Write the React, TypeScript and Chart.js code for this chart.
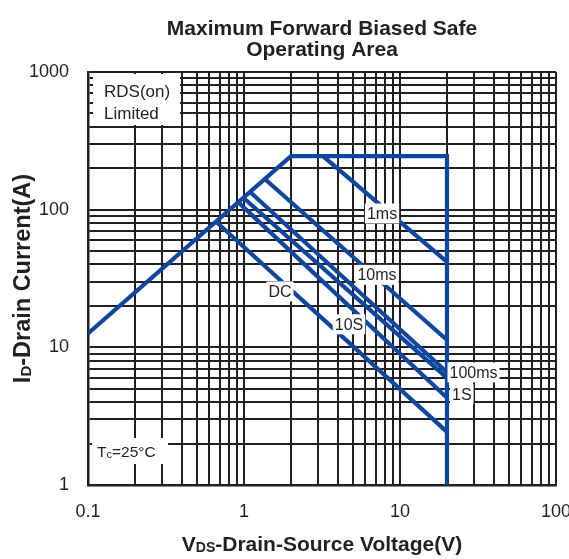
import React, { useEffect, useRef } from 'react';
import { Chart, registerables } from 'chart.js';
Chart.register(...registerables);

// ---------- data ----------
const TITLE_LINES = ['Maximum Forward Biased Safe', 'Operating Area'];
const X_DECADES = [0.1, 1, 10];
const X_MAX = 100;
const Y_DECADES = [1, 10, 100];
const Y_MAX = 1000;
const MINOR_MULTIPLIERS = [1, 2, 3, 4, 5, 6, 7, 8, 9];
const X_TICK_LABELS = ['0.1', '1', '10', '100'];
const Y_TICK_LABELS = ['1', '10', '100', '1000'];

// SOA boundary (RDS(on) limit, current limit, voltage limit)
const LIMIT_V = [0.1, 2.0, 20, 20];
const LIMIT_I = [12.6, 245, 245, 1];

// pulse lines
const PULSE_NAMES = ['1ms', '10ms', '100ms', '1S', '10S', 'DC'];
const PULSE_V_START = [3.21, 1.36, 1.09, 0.99, 0.92, 0.66];
const PULSE_I_START = [245, 167, 135, 122, 113, 82];
const PULSE_V_END = [20, 20, 20, 20, 20, 20];
const PULSE_I_END = [41.7, 11.3, 6.6, 6.0, 4.3, 2.43];
// label anchors (data coordinates)
const LABEL_V = [7.67, 7.12, 29.6, 24.9, 4.71, 1.7];
const LABEL_I = [93.8, 33.6, 6.57, 4.55, 14.7, 25.5];

const NOTE_TOP = ['RDS(on)', 'Limited'];
const NOTE_BOTTOM = { main: 'T', sub: 'c', rest: '=25°C' };
const X_TITLE = { main: 'V', sub: 'DS', rest: '-Drain-Source Voltage(V)' };
const Y_TITLE = { main: 'I', sub: 'D', rest: '-Drain Current(A)' };

// ---------- styles ----------
const BLUE = '#0b47a1';
const INK = '#231f20';
const FONT = '"Liberation Sans", Arial, Helvetica, sans-serif';

const xTicks = X_DECADES.flatMap((d) => MINOR_MULTIPLIERS.map((m) => +(d * m).toPrecision(4))).concat([X_MAX]);
const yTicks = Y_DECADES.flatMap((d) => MINOR_MULTIPLIERS.map((m) => +(d * m).toPrecision(4))).concat([Y_MAX]);

const sameVal = (a: number, b: number) => Math.abs(Math.log10(a) - Math.log10(b)) < 1e-6;
const labelFor = (labels: string[]) => (v: number) => {
  const l = labels.find((s) => sameVal(parseFloat(s), v));
  return l === undefined ? '' : l;
};

type Rich = { main: string; sub: string; rest: string };

function renderRich(ctx: CanvasRenderingContext2D, t: Rich, x: number, y: number, size: number, subSize: number, weight: string, center: boolean) {
  const fMain = `${weight} ${size}px ${FONT}`;
  const fSub = `${weight} ${subSize}px ${FONT}`;
  ctx.font = fMain;
  const w1 = ctx.measureText(t.main).width;
  const w3 = ctx.measureText(t.rest).width;
  ctx.font = fSub;
  const w2 = ctx.measureText(t.sub).width;
  const total = w1 + w2 + w3;
  let cx = center ? x - total / 2 : x;
  ctx.textAlign = 'left';
  ctx.textBaseline = 'alphabetic';
  ctx.font = fMain;
  ctx.fillText(t.main, cx, y);
  cx += w1;
  ctx.font = fSub;
  ctx.fillText(t.sub, cx, y + 1);
  cx += w2;
  ctx.font = fMain;
  ctx.fillText(t.rest, cx, y);
}

const annotations = {
  id: 'soaAnnotations',
  afterDatasetsDraw(chart: any) {
    const { ctx, chartArea, scales } = chart;
    const { left, top, bottom } = chartArea;
    ctx.save();
    // curve labels
    ctx.font = `16px ${FONT}`;
    PULSE_NAMES.forEach((name, i) => {
      const cx = scales.x.getPixelForValue(LABEL_V[i]);
      const cy = scales.y.getPixelForValue(LABEL_I[i]);
      const w = ctx.measureText(name).width + 4;
      const h = 20;
      ctx.fillStyle = '#ffffff';
      ctx.fillRect(cx - w / 2, cy - h / 2, w, h);
      ctx.fillStyle = INK;
      ctx.textAlign = 'center';
      ctx.textBaseline = 'middle';
      ctx.fillText(name, cx, cy + 1);
    });
    // RDS(on) note
    ctx.fillStyle = '#ffffff';
    ctx.fillRect(left + 5, top + 2, 87, 51);
    ctx.fillStyle = INK;
    ctx.font = `17px ${FONT}`;
    ctx.textAlign = 'left';
    ctx.textBaseline = 'middle';
    ctx.fillText(NOTE_TOP[0], left + 16, top + 20);
    ctx.fillText(NOTE_TOP[1], left + 16, top + 42);
    // Tc note
    ctx.fillStyle = '#ffffff';
    ctx.fillRect(left + 4, bottom - 47, 76, 26);
    ctx.fillStyle = INK;
    renderRich(ctx, NOTE_BOTTOM, left + 9, bottom - 28, 15.5, 11, 'normal', false);
    ctx.restore();
  },
  afterDraw(chart: any) {
    const { ctx, chartArea } = chart;
    const { left, right, top, bottom } = chartArea;
    ctx.save();
    ctx.fillStyle = INK;
    renderRich(ctx, X_TITLE, (left + right) / 2, 551, 21, 14, 'bold', true);
    ctx.translate(30, (top + bottom) / 2);
    ctx.rotate(-Math.PI / 2);
    renderRich(ctx, Y_TITLE, 0, 0, 23.5, 15, 'bold', true);
    ctx.restore();
  },
};

export default function App() {
  const ref = useRef<HTMLCanvasElement | null>(null);
  useEffect(() => {
    if (!ref.current) return;
    const line = (pts: { x: number; y: number }[], label: string) => ({
      label,
      data: pts,
      showLine: true,
      borderColor: BLUE,
      backgroundColor: BLUE,
      borderWidth: 4.2,
      pointRadius: 0,
      borderJoinStyle: 'miter' as const,
      borderCapStyle: 'butt' as const,
      tension: 0,
    });
    const datasets = [
      line(LIMIT_V.map((v, i) => ({ x: v, y: LIMIT_I[i] })), 'Limit'),
      ...PULSE_NAMES.map((n, i) =>
        line(
          [
            { x: PULSE_V_START[i], y: PULSE_I_START[i] },
            { x: PULSE_V_END[i], y: PULSE_I_END[i] },
          ],
          n
        )
      ),
    ];
    const chart = new Chart(ref.current, {
      type: 'scatter',
      data: { datasets },
      plugins: [annotations],
      options: {
        animation: false,
        responsive: false,
        devicePixelRatio: 1,
        layout: { padding: { top: 8, left: 0, right: 13, bottom: 0 } },
        plugins: {
          legend: { display: false },
          tooltip: { enabled: false },
          title: {
            display: true,
            text: TITLE_LINES,
            fullSize: false,
            color: INK,
            font: { family: FONT, size: 21, weight: 'bold', lineHeight: 1.02 },
            padding: { top: 10, bottom: 11.16 },
          },
        },
        scales: {
          x: {
            type: 'logarithmic',
            min: 0.1,
            max: 100,
            afterBuildTicks: (s: any) => {
              s.ticks = xTicks.map((v) => ({ value: v }));
            },
            afterFit: (s: any) => {
              s.height = 74;
              s.paddingLeft = 0;
              s.paddingRight = 0;
            },
            grid: { color: INK, lineWidth: 2, drawTicks: false },
            border: { color: INK, width: 2.5 },
            ticks: {
              autoSkip: false,
              maxRotation: 0,
              padding: 16,
              color: INK,
              font: { family: FONT, size: 18 },
              callback: (value: any) => labelFor(X_TICK_LABELS)(Number(value)),
            },
          },
          y: {
            type: 'logarithmic',
            min: 1,
            max: 1000,
            afterBuildTicks: (s: any) => {
              s.ticks = yTicks.map((v) => ({ value: v }));
            },
            afterFit: (s: any) => {
              s.width = 88;
              s.paddingTop = 0;
              s.paddingBottom = 0;
            },
            grid: { color: INK, lineWidth: 2, drawTicks: false },
            border: { color: INK, width: 2.5 },
            ticks: {
              autoSkip: false,
              padding: 19,
              color: INK,
              font: { family: FONT, size: 18 },
              callback: (value: any) => labelFor(Y_TICK_LABELS)(Number(value)),
            },
          },
        },
      } as any,
    });
    return () => chart.destroy();
  }, []);
  return (
    <div style={{ position: 'absolute', left: 0, top: 0, width: 569, height: 559 }}>
      <canvas ref={ref} width={569} height={559} style={{ display: 'block' }} />
    </div>
  );
}
